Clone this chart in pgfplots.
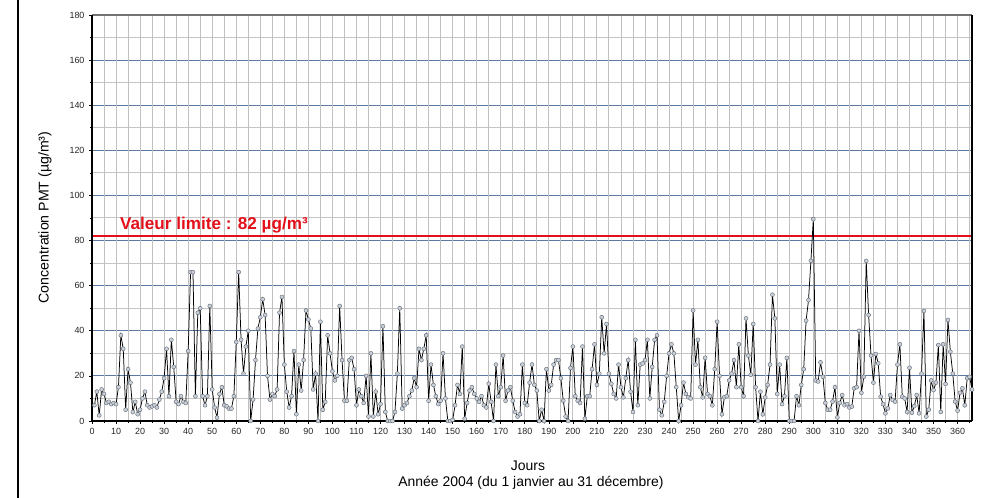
\documentclass[border=0pt]{standalone}
\usepackage{fontspec}
\setmainfont{Liberation Sans}
\usepackage{pgfplots}
\pgfplotsset{compat=1.18}
\definecolor{majgrid}{HTML}{5A78A2}
\definecolor{mingrid}{HTML}{C4C4C4}
\definecolor{vgrid}{HTML}{C0C0C0}
\definecolor{mkfill}{HTML}{C9D0DA}
\definecolor{mkdraw}{HTML}{5F666E}
\definecolor{limred}{HTML}{E3101A}
\begin{document}
\begin{tikzpicture}
\useasboundingbox (0,0) rectangle (1000bp,498bp);
\begin{axis}[
  at={(92bp,77bp)}, anchor=south west,
  scale only axis, width=880bp, height=406bp,
  xmin=0, xmax=366, ymin=0, ymax=180,
  clip=false,
  axis line style={draw=none},
  xtick={0,10,...,360},
  ytick={0,20,...,180},
  minor y tick num=1,
  ymajorgrids, yminorgrids,
  major grid style={majgrid, line width=0.8bp},
  minor grid style={mingrid, line width=1bp},
  extra x ticks={0,5,...,365},
  extra x tick labels={},
  extra x tick style={grid=major, major grid style={vgrid, line width=0.9bp}, major tick length=2bp},
  tick align=outside,
  xtick pos=bottom, ytick pos=left,
  major tick length=3bp, minor tick length=2bp,
  tick style={black, line width=0.6bp},
  /pgf/number format/assume math mode=true,
  ticklabel style={font=\fontsize{9}{10}\selectfont, text=black!85},
  xticklabel style={yshift=-1bp},
  yticklabel style={xshift=-1bp},
]
\addplot[limred, line width=2.6bp] coordinates {(0,82) (366,82)};
\addplot[black, line width=0.75bp, mark=*, mark size=2bp,
  mark options={fill=mkfill, draw=mkdraw, line width=0.4bp}] table {
1 7
2 13
3 2.5
4 14
5 12
6 8
7 8.5
8 7.5
9 8
10 7.5
11 15
12 38
13 32
14 5
15 23
16 17
17 4
18 8.5
19 3
20 5
21 10
22 13
23 7
24 6
25 6.5
26 7
27 6
28 9.5
29 13
30 19
31 32
32 11
33 36
34 24
35 8.5
36 7.5
37 11
38 8.5
39 8
40 31
41 66
42 66
43 11
44 48
45 50
46 11
47 7
48 11
49 51
50 14
51 6
52 1.5
53 12
54 15
55 7
56 6.5
57 5.5
58 5.5
59 11
60 35
61 66
62 36
63 21
64 33
65 40
66 0
67 9.5
68 27
69 41
70 46
71 54
72 47
73 20
74 9.5
75 12
76 11
77 14
78 48
79 55
80 25
81 13
82 6
83 11
84 31
85 3
86 25
87 13.5
88 27
89 49
90 45
91 41
92 14
93 21
94 0
95 44
96 5
97 8.5
98 38
99 30
100 22
101 18
102 20
103 51
104 27
105 9
106 9
107 27
108 28
109 23
110 7
111 14
112 11
113 8
114 20
115 2
116 30
117 2
118 13
119 3
120 7.5
121 42
122 4
123 0
124 0
125 0
126 4
127 21
128 50
129 5.5
130 7
131 8
132 11
133 13.5
134 19
135 15
136 32
137 27
138 32
139 38
140 9
141 25
142 16
143 11
144 7.5
145 9
146 30
147 10
148 0
149 0
150 0.5
151 7
152 16
153 12
154 33
155 1
156 8
157 13.5
158 15
159 12
160 10
161 8.5
162 11
163 7
164 6
165 16.5
166 8.5
167 0
168 25
169 11
170 15
171 29
172 9
173 13.5
174 15
175 9
176 4
177 2
178 3
179 25
180 8
181 7
182 17
183 25
184 16
185 13.5
186 0
187 5
188 0
189 23
190 13.5
191 16
192 25
193 27
194 27
195 19
196 9
197 2
198 0
199 23.5
200 33
201 11
202 9
203 8
204 33
205 1
206 11
207 11
208 23
209 34
210 16
211 21
212 46
213 30
214 43
215 21
216 16.5
217 12
218 10
219 25
220 15
221 10.5
222 19
223 27
224 13
225 4
226 36
227 7
228 25
229 25.5
230 27
231 36
232 10
233 24
234 36
235 38
236 5
237 2.5
238 8.5
239 20
240 30
241 34
242 30
243 15
244 0
245 7
246 17
247 12
248 10.5
249 10
250 49
251 25
252 36
253 15
254 10.5
255 28
256 12
257 11
258 7
259 23
260 44
261 20
262 3
263 10.5
264 11
265 18
266 21
267 27
268 15
269 34
270 15
271 11
272 45.5
273 29
274 20.5
275 43
276 15
277 0
278 13
279 3
280 10.5
281 16
282 25
283 56
284 45.5
285 12
286 25
287 7.5
288 11
289 28
290 0
291 0
292 0
293 11
294 7
295 16
296 23
297 44.5
298 53.6
299 71
300 89.5
301 18
302 17.5
303 26
304 19.6
305 8
306 5
307 5
308 8.6
309 15
310 1.6
311 8
312 11.5
313 7
314 7.5
315 6
316 6.4
317 14.5
318 15
319 40
320 12.5
321 19.6
322 71
323 47
324 29
325 17
326 29.7
327 25.6
328 10.8
329 7.5
330 3.4
331 5.6
332 11.5
333 9.3
334 8.6
335 25
336 34
337 10.8
338 10
339 4
340 23.6
341 3.7
342 6.6
343 11.5
344 3.4
345 21
346 48.8
347 2
348 5
349 18
350 13.7
351 17
352 33.7
353 4
354 34
355 16.4
356 44.8
357 30.7
358 21
359 8.6
360 4.6
361 12.5
362 14.5
363 7
364 19
365 19.6
366 14
};
\draw[black!55, line width=1.2bp] (rel axis cs:0,1) -- (rel axis cs:1,1);
\draw[black, line width=1.3bp] (rel axis cs:1,1) -- (rel axis cs:1,0);
\draw[black, line width=1.8bp] (rel axis cs:0,1) -- (rel axis cs:0,0) -- (rel axis cs:1,0);
\node[anchor=base west, text=limred, font=\fontsize{17.2}{19}\selectfont\bfseries, inner sep=0pt] at (axis cs:11.6,85.0) {Valeur limite : 82 µg/m³};
\end{axis}
\draw[black, line width=2.6bp] (18bp,0) -- (18bp,498bp);
\node[rotate=90, font=\fontsize{14.2}{16}\selectfont] at (45bp,280.5bp) {Concentration PMT (µg/m³)};
\node[font=\fontsize{14}{16}\selectfont] at (528bp,32bp) {Jours};
\node[font=\fontsize{14}{16}\selectfont] at (531bp,15bp) {Année 2004 (du 1 janvier au 31 décembre)};
\end{tikzpicture}
\end{document}
